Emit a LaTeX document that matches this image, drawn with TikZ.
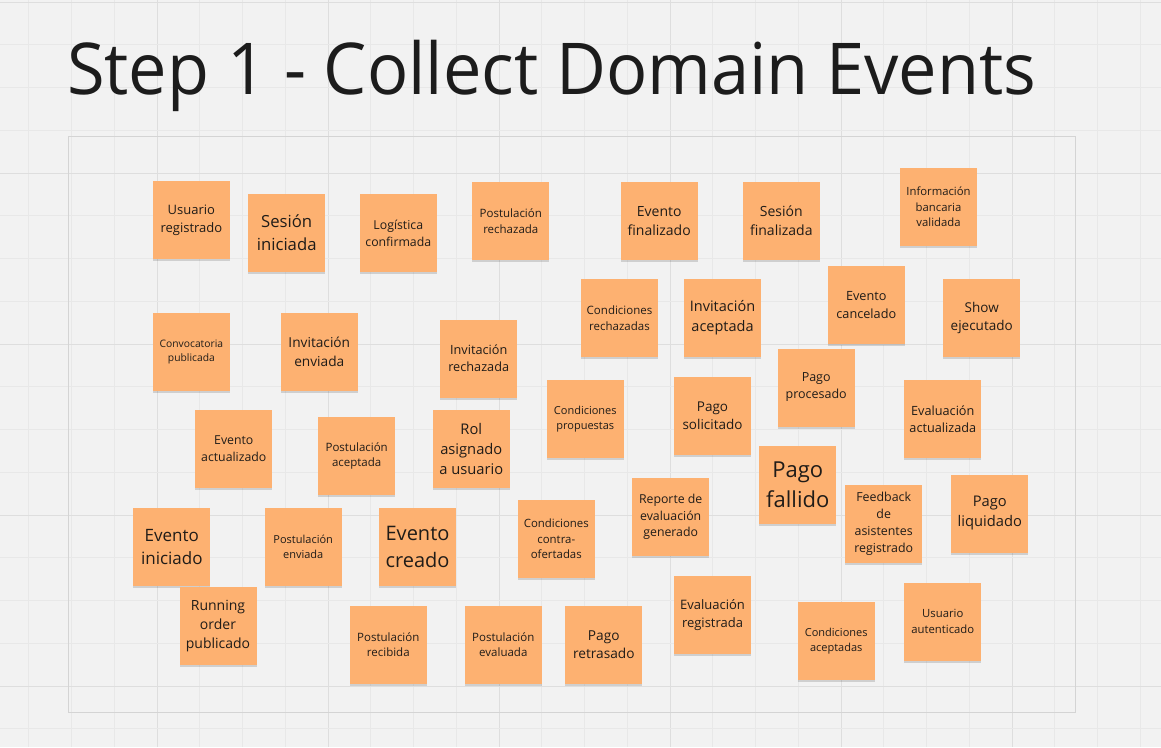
\documentclass[tikz,border=0pt]{standalone}
\usepackage{fontspec}
\setmainfont{Open Sans}
\usetikzlibrary{shadows}
\definecolor{bgcol}{RGB}{242,242,242}
\definecolor{gridminor}{RGB}{232,232,232}
\definecolor{gridmajor}{RGB}{222,222,222}
\definecolor{framecol}{RGB}{212,212,212}
\definecolor{stickycol}{RGB}{253,177,113}
\definecolor{textcol}{RGB}{32,28,24}
\definecolor{titlecol}{RGB}{28,28,28}
\tikzset{
  sticky/.style={rectangle, fill=stickycol, minimum width=77pt, minimum height=78pt,
    inner sep=0pt, align=center, text=textcol,
    drop shadow={shadow xshift=0pt, shadow yshift=-2pt, opacity=0.14, fill=black}},
  gridline/.style={line width=1pt, gridminor},
  gridmajorline/.style={line width=1pt, gridmajor},
  framebox/.style={draw=framecol, line width=1pt}
}
\newcommand{\stk}[5]{\node[sticky, font={\fontsize{#4pt}{\dimexpr #4pt*136/100\relax}\selectfont}] (#1) at (#2,#3) {#5};}
\begin{document}
\begin{tikzpicture}[x=1pt,y=-1pt]
\useasboundingbox (0,0) rectangle (1161,747);
\fill[bgcol] (0,0) rectangle (1161,747);
% grid
\foreach \k in {0,...,26}{
  \pgfmathsetmacro{\xx}{28.75+42.75*\k}
  \pgfmathtruncatemacro{\m}{mod(\k,4)}
  \ifnum\m=3 \draw[gridmajorline] (\xx,0) -- (\xx,747); \else \draw[gridline] (\xx,0) -- (\xx,747); \fi
}
\foreach \k in {0,...,17}{
  \pgfmathsetmacro{\yy}{2+42.75*\k}
  \pgfmathtruncatemacro{\m}{mod(\k,4)}
  \ifnum\m=0 \draw[gridmajorline] (0,\yy) -- (1161,\yy); \else \draw[gridline] (0,\yy) -- (1161,\yy); \fi
}
% frame
\draw[framebox] (68.5,136.5) rectangle (1075.5,712.5);
% title
\node[anchor=base west, inner sep=0pt, text=titlecol, xscale=0.958, transform shape, font={\fontsize{71.5pt}{86pt}\selectfont}] (title) at (67,94) {Step 1 - Collect Domain Events};
% stickies
\stk{ur}{191.4}{220}{13}{Usuario\\registrado}
\stk{si}{286.7}{233}{16.7}{Sesión\\iniciada}
\stk{lc}{398.3}{233}{12.3}{Logística\\confirmada}
\stk{pr}{510.8}{221}{11.5}{Postulación\\rechazada}
\stk{ef}{659.2}{221}{14}{Evento\\finalizado}
\stk{sf}{781.3}{221}{14}{Sesión\\finalizada}
\stk{ibv}{938.5}{207}{11.3}{Información\\bancaria\\validada}
\stk{cr}{619.5}{318}{11.5}{Condiciones\\rechazadas}
\stk{ia}{722.5}{318}{14.5}{Invitación\\aceptada}
\stk{ec}{866.3}{305}{12.7}{Evento\\cancelado}
\stk{se}{981.7}{318}{13.5}{Show\\ejecutado}
\stk{cp}{191.4}{351.5}{10.3}{Convocatoria\\publicada}
\stk{ie}{319.3}{351.5}{13.7}{Invitación\\enviada}
\stk{ir}{478.7}{358.5}{12.7}{Invitación\\rechazada}
\stk{pp}{816.2}{387.5}{12.5}{Pago\\procesado}
\stk{ea}{233.8}{449}{12.3}{Evento\\actualizado}
\stk{pa}{356.7}{456}{11.5}{Postulación\\aceptada}
\stk{rau}{471.3}{448.5}{14.7}{Rol\\asignado\\a usuario}
\stk{cpr}{585.3}{419}{11}{Condiciones\\propuestas}
\stk{ps}{712.5}{416}{13.5}{Pago\\solicitado}
\stk{eva}{942.8}{419}{12.7}{Evaluación\\actualizada}
\stk{pf}{797.8}{485}{22}{Pago\\fallido}
\stk{ei}{171.8}{547}{17}{Evento\\iniciado}
\stk{pe}{303.2}{547}{11}{Postulación\\enviada}
\stk{ecr}{417.5}{547}{20}{Evento\\creado}
\stk{cco}{556.3}{539}{11.4}{Condiciones\\contra-\\ofertadas}
\stk{reg}{670.7}{517}{12.3}{Reporte de\\evaluación\\generado}
\stk{far}{883.7}{524}{12.4}{Feedback\\de\\asistentes\\registrado}
\stk{pl}{989.8}{513.5}{14.7}{Pago\\liquidado}
\stk{rop}{218}{626}{14}{Running\\order\\publicado}
\stk{prc}{388.3}{644.5}{11.5}{Postulación\\recibida}
\stk{pev}{503.3}{644.5}{11.5}{Postulación\\evaluada}
\stk{prt}{603.8}{644.5}{13.7}{Pago\\retrasado}
\stk{er}{712.5}{615}{13}{Evaluación\\registrada}
\stk{ca}{836.2}{641}{11}{Condiciones\\aceptadas}
\stk{ua}{942.8}{621.5}{11.3}{Usuario\\autenticado}
\end{tikzpicture}
\end{document}
